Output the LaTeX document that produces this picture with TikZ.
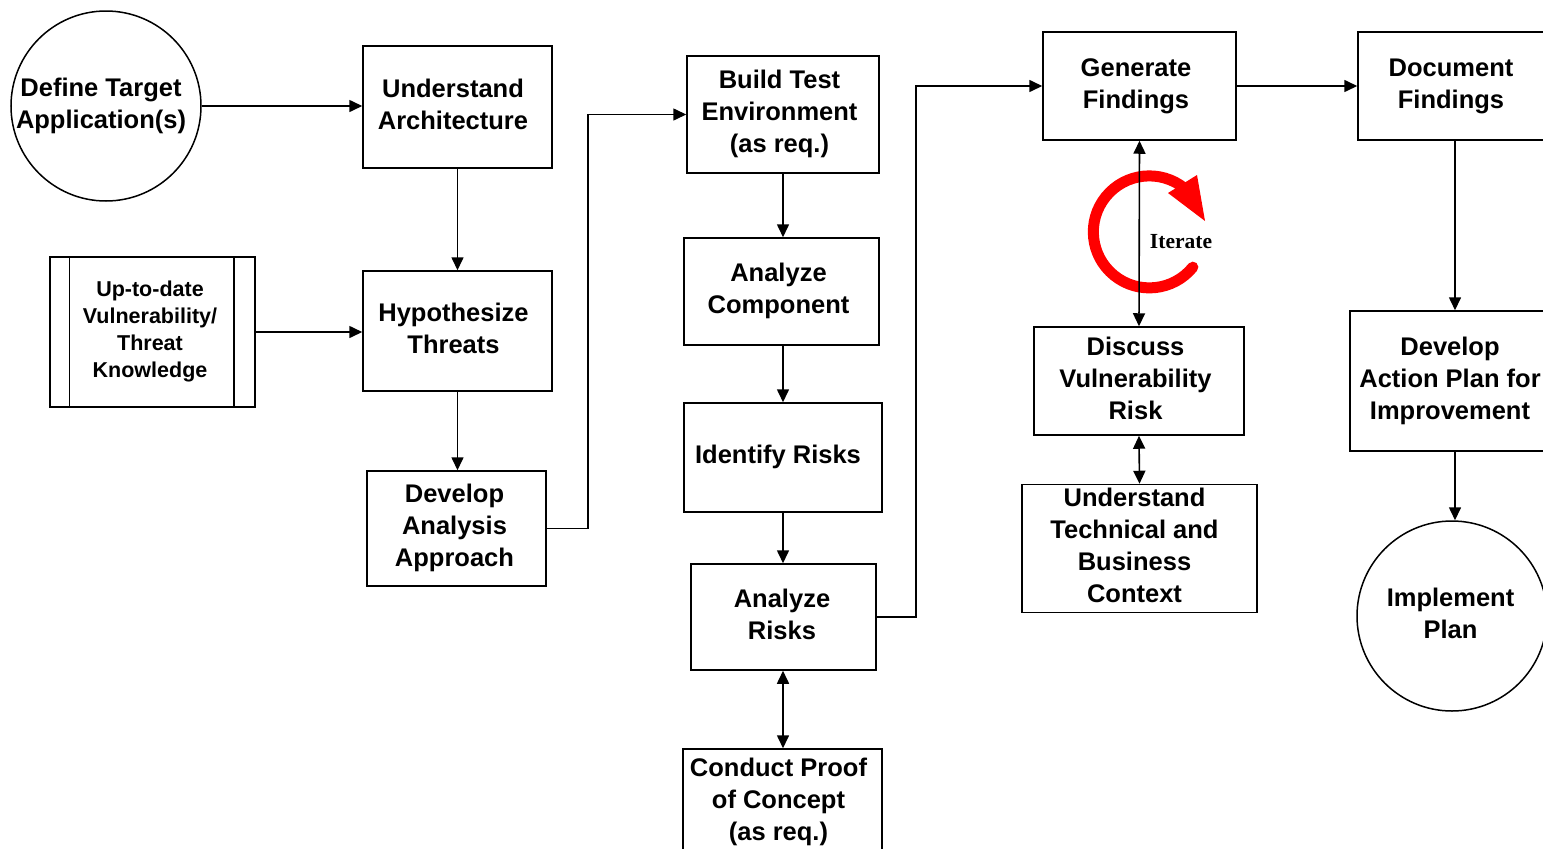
\documentclass[tikz,border=0pt]{standalone}
\usepackage{fontspec}
\setmainfont{Liberation Sans}
\newfontfamily\serifbold{Liberation Serif}
\usetikzlibrary{arrows.meta}
\newcommand{\ct}[2]{\hspace*{#1}\begin{tabular}{@{}c@{}}#2\end{tabular}}
\begin{document}
\begin{tikzpicture}[x=1pt,y=-1pt,
  box/.style={draw, line width=1.5pt, fill=white, align=center, inner sep=0pt,
    font=\fontsize{25.5}{32}\selectfont\bfseries},
  circ/.style={box, circle},
  small/.style={font=\fontsize{21.5}{27}\selectfont\bfseries},
  tip/.style={-{Triangle[length=13pt,width=12pt]}},
  conn/.style={line width=1.6pt, tip},
  dconn/.style={line width=1.6pt, {Triangle[length=13pt,width=12pt]}-{Triangle[length=13pt,width=12pt]}},
  iter/.style={draw=red, line width=11pt, line cap=round},
]
\useasboundingbox (0,0) rectangle (1543,849);
\clip (0,0) rectangle (1543,849);
\fill[white] (0,0) rectangle (1543,849);

% nodes
\node[circ, minimum size=190pt] (dta) at (106,106) {\ct{-10pt}{Define Target\\Application(s)}};
\node[box, minimum width=189pt, minimum height=122pt] (ua) at (457.5,107) {\ct{-9pt}{Understand\\Architecture}};
\node[box, small, minimum width=205pt, minimum height=150pt] (upd) at (152.5,332) {\ct{-5pt}{Up-to-date\\Vulnerability/\\Threat\\Knowledge}};
\node[box, minimum width=189pt, minimum height=120pt] (hypo) at (457.5,331) {\ct{-8pt}{Hypothesize\\Threats}};
\node[box, minimum width=179pt, minimum height=115pt] (dev) at (456.5,528.5) {\ct{-4pt}{Develop\\Analysis\\Approach}};
\node[box, minimum width=192pt, minimum height=117pt] (bte) at (783,114.5) {\ct{-7pt}{Build Test\\Environment\\(as req.)}};
\node[box, minimum width=195pt, minimum height=107pt] (ac) at (781.5,291.5) {\ct{-6pt}{Analyze\\Component}};
\node[box, minimum width=198pt, minimum height=109pt] (ir) at (783,457.5) {\ct{-10pt}{Identify Risks}};
\node[box, minimum width=185pt, minimum height=106pt] (ar) at (783.5,617) {\ct{-3pt}{Analyze\\Risks}};
\node[box, minimum width=199pt, minimum height=106pt] (cp) at (782.5,802) {\ct{-8pt}{Conduct Proof\\of Concept\\(as req.)}};
\node[box, minimum width=193pt, minimum height=108pt] (gf) at (1139.5,86) {\ct{-7pt}{Generate\\Findings}};
\node[box, minimum width=186pt, minimum height=108pt] (df) at (1451,86) {\ct{0pt}{Document\\Findings}};
\node[box, minimum width=210pt, minimum height=108pt] (dvr) at (1139,381) {\ct{-7pt}{Discuss\\Vulnerability\\Risk}};
\node[box, minimum width=235pt, minimum height=127pt] (utb) at (1139.5,548.5) {\ct{-10pt}{Understand\\Technical and\\Business\\Context}};
\node[box, minimum width=200pt, minimum height=140pt] (dap) at (1450,381) {\ct{0pt}{Develop\\Action Plan for\\Improvement}};
\node[circ, minimum size=190pt] (ip) at (1452,616) {\ct{-3pt}{Implement\\Plan}};

% inner bars of the knowledge box
\draw[line width=1.5pt] ([xshift=20pt]upd.north west) -- ([xshift=20pt]upd.south west);
\draw[line width=1.5pt] ([xshift=-22pt]upd.north east) -- ([xshift=-22pt]upd.south east);

% junction points
\coordinate (j1) at (588,528.5);
\coordinate (j2) at (916,617);

% connectors
\draw[conn] (dta.east) -- (ua.west |- dta.east);
\draw[conn] (ua.south) -- (hypo.north);
\draw[conn] (upd.east) -- (hypo.west |- upd.east);
\draw[conn] (hypo.south) -- (hypo.south |- dev.north);
\draw[conn] (dev.east) -- (j1) |- (bte.west);
\draw[conn] (bte.south) -- (bte.south |- ac.north);
\draw[conn] (bte.south |- ac.south) -- (ir.north);
\draw[conn] (ir.south) -- (ir.south |- ar.north);
\draw[dconn] (ir.south |- ar.south) -- (ir.south |- cp.north);
\draw[conn] (ar.east) -- (j2) |- (gf.west);
\draw[conn] (gf.east) -- (df.west);
\draw[conn] ([xshift=4pt]df.south) -- ([xshift=4pt]df.south |- dap.north);
\draw[conn] ([xshift=4pt]df.south |- dap.south) -- ([xshift=4pt]df.south |- ip.north);

% iterate loop
\draw[iter] (1147,230) ++(39:59) arc[start angle=39, end angle=309, radius=56];
\fill[red] (1168,193) -- (1197,175) -- (1205,221) -- cycle;
\draw[dconn] (gf.south) -- (dvr.north);
\draw[dconn] (dvr.south) -- (utb.north);
\node[font=\fontsize{21.5}{24}\selectfont\serifbold\bfseries, fill=white, inner sep=1pt] (it) at (1181,242) {Iterate};
\end{tikzpicture}
\end{document}
